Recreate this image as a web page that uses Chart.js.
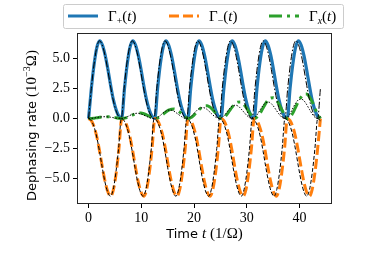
<!DOCTYPE html>
<html>
<head>
<meta charset="utf-8">
<script src="https://cdn.jsdelivr.net/npm/chart.js@4.4.0/dist/chart.umd.min.js"></script>
<style>
  html, body { margin: 0; padding: 0; background: #fff; }
  canvas { display: block; }
</style>
</head>
<body>
<canvas id="chart" width="382" height="255"></canvas>
<script>
// Tiempo t (1/Omega), muestreado cada pi/6
const time = [
  0, 0.52, 1.05, 1.57, 2.09, 2.62, 3.14, 3.67, 4.19, 4.71, 5.24, 5.76,
  6.28, 6.81, 7.33, 7.85, 8.38, 8.90, 9.42, 9.95, 10.47, 11.00, 11.52, 12.04,
  12.57, 13.09, 13.61, 14.14, 14.66, 15.18, 15.71, 16.23, 16.76, 17.28, 17.80, 18.33,
  18.85, 19.37, 19.90, 20.42, 20.94, 21.47, 21.99, 22.51, 23.04, 23.56, 24.09, 24.61,
  25.13, 25.66, 26.18, 26.70, 27.23, 27.75, 28.27, 28.80, 29.32, 29.85, 30.37, 30.89,
  31.42, 31.94, 32.46, 32.99, 33.51, 34.03, 34.56, 35.08, 35.60, 36.13, 36.65, 37.18,
  37.70, 38.22, 38.75, 39.27, 39.79, 40.32, 40.84, 41.36, 41.89, 42.41, 42.94, 43.46,
  43.98
];

// Tiempos de las curvas aproximadas (negras), que se adelantan poco a poco
const timeApprox = [
  0, 0.51, 1.04, 1.55, 2.07, 2.59, 3.10, 3.62, 4.14, 4.66, 5.17, 5.69,
  6.21, 6.73, 7.24, 7.76, 8.28, 8.80, 9.31, 9.83, 10.35, 10.87, 11.38, 11.90,
  12.42, 12.93, 13.45, 13.97, 14.49, 15.00, 15.52, 16.04, 16.56, 17.07, 17.59, 18.11,
  18.63, 19.14, 19.66, 20.18, 20.70, 21.21, 21.73, 22.25, 22.77, 23.28, 23.80, 24.32,
  24.83, 25.35, 25.87, 26.39, 26.90, 27.42, 27.94, 28.46, 28.97, 29.49, 30.01, 30.53,
  31.04, 31.56, 32.08, 32.60, 33.11, 33.63, 34.15, 34.67, 35.18, 35.70, 36.22, 36.73,
  37.25, 37.77, 38.29, 38.80, 39.32, 39.84, 40.36, 40.87, 41.39, 41.91, 42.43, 42.94,
  43.46, 43.98
];

// Gamma_+(t) en 10^-3 Omega
const gammaPlus = [
  0, 2.5, 4.55, 5.95, 6.5, 6.15, 5.3, 4.1, 2.75, 1.55, 0.7, 0.18,
  0, 2.5, 4.55, 5.95, 6.5, 6.15, 5.3, 4.1, 2.75, 1.55, 0.7, 0.18,
  0, 2.5, 4.55, 5.95, 6.5, 6.15, 5.3, 4.1, 2.75, 1.55, 0.7, 0.18,
  0, 2.5, 4.55, 5.95, 6.5, 6.15, 5.3, 4.1, 2.75, 1.55, 0.7, 0.18,
  0, 2.5, 4.55, 5.95, 6.5, 6.15, 5.3, 4.1, 2.75, 1.55, 0.7, 0.18,
  0, 2.5, 4.55, 5.95, 6.5, 6.15, 5.3, 4.1, 2.75, 1.55, 0.7, 0.18,
  0, 2.5, 4.55, 5.95, 6.5, 6.15, 5.3, 4.1, 2.75, 1.55, 0.7, 0.18,
  0
];

// Gamma_-(t)
const gammaMinus = [
  0, -0.18, -0.7, -1.55, -2.75, -4.1, -5.3, -6.15, -6.5, -5.95, -4.55, -2.5,
  0, -0.18, -0.7, -1.55, -2.75, -4.1, -5.3, -6.15, -6.5, -5.95, -4.55, -2.5,
  0, -0.18, -0.7, -1.55, -2.75, -4.1, -5.3, -6.15, -6.5, -5.95, -4.55, -2.5,
  0, -0.18, -0.7, -1.55, -2.75, -4.1, -5.3, -6.15, -6.5, -5.95, -4.55, -2.5,
  0, -0.18, -0.7, -1.55, -2.75, -4.1, -5.3, -6.15, -6.5, -5.95, -4.55, -2.5,
  0, -0.18, -0.7, -1.55, -2.75, -4.1, -5.3, -6.15, -6.5, -5.95, -4.55, -2.5,
  0, -0.18, -0.7, -1.55, -2.75, -4.1, -5.3, -6.15, -6.5, -5.95, -4.55, -2.5,
  0
];

// Gamma_x(t)
const gammaX = [
  0, 0.01, 0.03, 0.07, 0.10, 0.13, 0.15, 0.15, 0.13, 0.10, 0.06, 0.02,
  0, 0.03, 0.10, 0.21, 0.31, 0.40, 0.45, 0.46, 0.40, 0.31, 0.19, 0.07,
  0, 0.05, 0.18, 0.36, 0.54, 0.70, 0.78, 0.79, 0.70, 0.54, 0.34, 0.13,
  0, 0.06, 0.24, 0.49, 0.73, 0.94, 1.06, 1.07, 0.95, 0.73, 0.45, 0.17,
  0, 0.08, 0.31, 0.63, 0.95, 1.22, 1.37, 1.39, 1.23, 0.95, 0.59, 0.22,
  0, 0.11, 0.39, 0.79, 1.20, 1.53, 1.72, 1.74, 1.55, 1.20, 0.74, 0.28,
  0, 0.12, 0.45, 0.93, 1.40, 1.79, 2.02, 2.04, 1.81, 1.40, 0.87, 0.33,
  0
];

// Aproximaciones (lineas negras finas)
const approxPlus = [
  0, 2.5, 4.55, 5.95, 6.5, 6.15, 5.3, 4.1, 2.75, 1.55, 0.7, 0.18,
  0, 2.5, 4.55, 5.95, 6.5, 6.15, 5.3, 4.1, 2.75, 1.55, 0.7, 0.18,
  0, 2.5, 4.55, 5.95, 6.5, 6.15, 5.3, 4.1, 2.75, 1.55, 0.7, 0.18,
  0, 2.5, 4.55, 5.95, 6.5, 6.15, 5.3, 4.1, 2.75, 1.55, 0.7, 0.18,
  0, 2.5, 4.55, 5.95, 6.5, 6.15, 5.3, 4.1, 2.75, 1.55, 0.7, 0.18,
  0, 2.5, 4.55, 5.95, 6.5, 6.15, 5.3, 4.1, 2.75, 1.55, 0.7, 0.18,
  0, 2.5, 4.55, 5.95, 6.5, 6.15, 5.3, 4.1, 2.75, 1.55, 0.7, 0.18,
  0, 2.5
];

const approxMinus = [
  0, -0.18, -0.7, -1.55, -2.75, -4.1, -5.3, -6.15, -6.5, -5.95, -4.55, -2.5,
  0, -0.18, -0.7, -1.55, -2.75, -4.1, -5.3, -6.15, -6.5, -5.95, -4.55, -2.5,
  0, -0.18, -0.7, -1.55, -2.75, -4.1, -5.3, -6.15, -6.5, -5.95, -4.55, -2.5,
  0, -0.18, -0.7, -1.55, -2.75, -4.1, -5.3, -6.15, -6.5, -5.95, -4.55, -2.5,
  0, -0.18, -0.7, -1.55, -2.75, -4.1, -5.3, -6.15, -6.5, -5.95, -4.55, -2.5,
  0, -0.18, -0.7, -1.55, -2.75, -4.1, -5.3, -6.15, -6.5, -5.95, -4.55, -2.5,
  0, -0.18, -0.7, -1.55, -2.75, -4.1, -5.3, -6.15, -6.5, -5.95, -4.55, -2.5,
  0, -0.18
];

const approxX = [
  0, 0.01, 0.04, 0.08, 0.12, 0.14, 0.15, 0.14, 0.11, 0.07, 0.03, 0.01,
  0, 0.04, 0.12, 0.24, 0.35, 0.42, 0.44, 0.40, 0.31, 0.20, 0.10, 0.03,
  0, 0.06, 0.20, 0.40, 0.58, 0.69, 0.71, 0.65, 0.50, 0.33, 0.17, 0.04,
  0, 0.07, 0.26, 0.51, 0.74, 0.88, 0.91, 0.83, 0.64, 0.42, 0.21, 0.06,
  0, 0.09, 0.31, 0.62, 0.90, 1.08, 1.11, 1.01, 0.78, 0.52, 0.26, 0.07,
  0, 0.11, 0.39, 0.76, 1.10, 1.32, 1.37, 1.24, 0.97, 0.63, 0.32, 0.08,
  0, 0.13, 0.46, 0.90, 1.31, 1.57, 1.62, 1.48, 1.15, 0.75, 0.38, 0.10,
  0, 0.15
];

const xTicks = [0, 10, 20, 30, 40];
const yTicks = [-5, -2.5, 0, 2.5, 5];

const SERIF = "'Liberation Serif', 'DejaVu Serif', serif";
const SANS = "'DejaVu Sans', sans-serif";

// Textos de la leyenda (Gamma con subindice)
const legendItems = [
  {sub: "+", subItalic: false, color: "#1f77b4", dash: []},
  {sub: "\u2212", subItalic: false, color: "#ff7f0e", dash: [10, 4]},
  {sub: "x", subItalic: true, color: "#2ca02c", dash: [13, 5, 3, 5]}
];

function toPoints(xs, ys) {
  return ys.map((y, i) => ({x: xs[i], y: y}));
}

function drawPieces(ctx, pieces, x, y, align) {
  let w = 0;
  pieces.forEach(p => { ctx.font = p.font; w += ctx.measureText(p.text).width; });
  let cx = align === "center" ? x - w / 2 : x;
  pieces.forEach(p => {
    ctx.font = p.font;
    ctx.fillText(p.text, cx, y + (p.dy || 0));
    cx += ctx.measureText(p.text).width;
  });
}

const decorPlugin = {
  id: "decor",
  afterDraw(chart) {
    const ctx = chart.ctx;
    const a = chart.chartArea;
    ctx.save();

    // Marco del area de graficado
    ctx.strokeStyle = "#262626";
    ctx.lineWidth = 1;
    ctx.setLineDash([]);
    ctx.strokeRect(Math.round(a.left) + 0.5, Math.round(a.top) + 0.5,
      Math.round(a.right - a.left) - 1, Math.round(a.bottom - a.top) - 1);

    ctx.fillStyle = "#000";
    ctx.textBaseline = "alphabetic";

    // Titulo eje x
    drawPieces(ctx, [
      {text: "Time ", font: "13px " + SANS},
      {text: "t", font: "italic 15px " + SERIF},
      {text: " (1/\u03a9)", font: "15px " + SERIF}
    ], (a.left + a.right) / 2, 238, "center");

    // Titulo eje y (rotado)
    ctx.save();
    ctx.translate(31, (a.top + a.bottom) / 2 + 7);
    ctx.rotate(-Math.PI / 2);
    drawPieces(ctx, [
      {text: "Dephasing rate ", font: "13px " + SANS},
      {text: "(10", font: "15px " + SERIF},
      {text: "\u22123", font: "10px " + SERIF, dy: -6},
      {text: "\u03a9)", font: "15px " + SERIF}
    ], 0, 4.5, "center");
    ctx.restore();

    // Leyenda
    const bx = 63.5, by = 4.5, bw = 280, bh = 24;
    ctx.fillStyle = "rgba(255,255,255,0.8)";
    ctx.strokeStyle = "#cccccc";
    ctx.lineWidth = 1;
    ctx.beginPath();
    ctx.roundRect(bx, by, bw, bh, 2);
    ctx.fill();
    ctx.stroke();

    const starts = [68, 169, 269];
    legendItems.forEach((item, i) => {
      const x0 = starts[i];
      const ly = 16;
      ctx.strokeStyle = item.color;
      ctx.lineWidth = 3;
      ctx.setLineDash(item.dash);
      ctx.beginPath();
      ctx.moveTo(x0, ly);
      ctx.lineTo(x0 + 30, ly);
      ctx.stroke();
      ctx.setLineDash([]);
      ctx.fillStyle = "#000";
      drawPieces(ctx, [
        {text: "\u0393", font: "15px " + SERIF},
        {text: item.sub, font: (item.subItalic ? "italic " : "") + "10px " + SERIF, dy: 3},
        {text: "(", font: "15px " + SERIF},
        {text: "t", font: "italic 15px " + SERIF},
        {text: ")", font: "15px " + SERIF}
      ], x0 + 40, 21, "left");
    });

    ctx.restore();
  }
};

function lineSet(label, xs, ys, color, width, dash, order) {
  return {
    label: label,
    data: toPoints(xs, ys),
    borderColor: color,
    backgroundColor: color,
    borderWidth: width,
    borderDash: dash,
    pointRadius: 0,
    fill: false,
    cubicInterpolationMode: "monotone",
    order: order
  };
}

const ctx = document.getElementById("chart").getContext("2d");
new Chart(ctx, {
  type: "line",
  data: {
    datasets: [
      lineSet("\u0393+(t)", time, gammaPlus, "#1f77b4", 3.2, [], 6),
      lineSet("\u0393\u2212(t)", time, gammaMinus, "#ff7f0e", 3, [10, 4], 5),
      lineSet("\u0393x(t)", time, gammaX, "#2ca02c", 3, [13, 5, 3, 5], 4),
      lineSet("aprox +", timeApprox, approxPlus, "#000", 1, [7, 2, 1.5, 2], 3),
      lineSet("aprox \u2212", timeApprox, approxMinus, "#000", 1, [4, 2], 2),
      lineSet("aprox x", timeApprox, approxX, "#000", 1, [1.5, 1.5], 1)
    ]
  },
  options: {
    responsive: false,
    animation: false,
    devicePixelRatio: 1,
    layout: {padding: {left: 0, right: 50, top: 33, bottom: 0}},
    plugins: {
      legend: {display: false},
      tooltip: {enabled: false}
    },
    scales: {
      x: {
        type: "linear",
        min: -2.2,
        max: 46.18,
        grid: {display: true, drawOnChartArea: false, drawTicks: true, tickLength: 4, tickColor: "#000", tickWidth: 1},
        border: {display: false},
        ticks: {
          color: "#000",
          font: {family: SERIF, size: 14},
          padding: 2,
          maxRotation: 0,
          callback: v => String(v)
        },
        afterBuildTicks: s => { s.ticks = xTicks.map(v => ({value: v})); },
        afterFit: s => { s.height = 51; }
      },
      y: {
        min: -7.15,
        max: 7.15,
        grid: {display: true, drawOnChartArea: false, drawTicks: true, tickLength: 4, tickColor: "#000", tickWidth: 1},
        border: {display: false},
        ticks: {
          color: "#000",
          font: {family: SERIF, size: 14},
          padding: 3,
          callback: v => (v < 0 ? "\u2212" : "") + Math.abs(v).toFixed(1)
        },
        afterBuildTicks: s => { s.ticks = yTicks.map(v => ({value: v})); },
        afterFit: s => { s.width = 77; }
      }
    }
  },
  plugins: [decorPlugin]
});
</script>
</body>
</html>
